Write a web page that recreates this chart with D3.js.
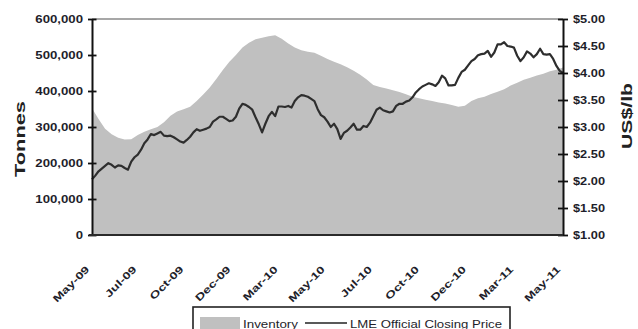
<!DOCTYPE html>
<html>
<head>
<meta charset="utf-8">
<script src="https://cdn.jsdelivr.net/npm/d3@7"></script>
<style>
  html, body { margin: 0; padding: 0; background: #fff; }
  svg { display: block; font-family: "Liberation Sans", Arial, sans-serif; }
</style>
</head>
<body>
<svg id="chart" width="638" height="329"></svg>
<script>
// Date labels along the bottom axis (evenly spaced)
const dateLabels = ["May-09", "Jul-09", "Oct-09", "Dec-09", "Mar-10", "May-10",
                    "Jul-10", "Oct-10", "Dec-10", "Mar-11", "May-11"];

// Inventory, thousand tonnes, sampled evenly across the period
const inventoryKt = [
  352, 322, 295, 280, 270, 265, 266, 278, 287, 294,
  300, 313, 331, 343, 349, 356, 372, 390, 410, 433,
  458, 481, 500, 521, 534, 544, 548, 552, 555, 545,
  532, 521, 513, 509, 506, 498, 489, 481, 474, 466,
  456, 445, 432, 417, 411, 407, 402, 397, 391, 384,
  380, 376, 372, 368, 365, 361, 356, 359, 372, 380,
  384, 392, 398, 405, 415, 423, 431, 437, 443, 448,
  455, 459, 465
];

// LME official closing price, US$/lb, sampled evenly across the period
const priceUsdLb = [
  2.03, 2.10, 2.18, 2.23, 2.28, 2.33, 2.30, 2.25, 2.29, 2.28,
  2.24, 2.21, 2.36, 2.44, 2.49, 2.58, 2.70, 2.77, 2.87, 2.85,
  2.88, 2.91, 2.84, 2.83, 2.84, 2.81, 2.77, 2.73, 2.71, 2.76,
  2.82, 2.90, 2.96, 2.93, 2.95, 2.97, 3.00, 3.10, 3.14, 3.19,
  3.19, 3.15, 3.11, 3.12, 3.19, 3.34, 3.43, 3.41, 3.37, 3.32,
  3.18, 3.05, 2.90, 3.06, 3.20, 3.28, 3.20, 3.38, 3.38, 3.37,
  3.39, 3.36, 3.48, 3.55, 3.59, 3.58, 3.56, 3.52, 3.48, 3.33,
  3.22, 3.18, 3.10, 3.00, 3.06, 2.96, 2.78, 2.89, 2.93, 2.99,
  3.06, 2.95, 2.95, 3.02, 3.00, 3.08, 3.20, 3.32, 3.36, 3.31,
  3.29, 3.27, 3.29, 3.39, 3.43, 3.43, 3.47, 3.49, 3.55, 3.64,
  3.70, 3.75, 3.78, 3.81, 3.79, 3.76, 3.83, 3.95, 3.90, 3.77,
  3.77, 3.78, 3.91, 4.02, 4.06, 4.14, 4.22, 4.26, 4.33, 4.35,
  4.36, 4.41, 4.30, 4.38, 4.53, 4.53, 4.57, 4.50, 4.49, 4.47,
  4.32, 4.22, 4.29, 4.40, 4.36, 4.29, 4.35, 4.45, 4.35, 4.34,
  4.35, 4.26, 4.13, 4.04, 4.00
];

const inventoryTicks = [0, 100, 200, 300, 400, 500, 600];
const priceTicks = [1.0, 1.5, 2.0, 2.5, 3.0, 3.5, 4.0, 4.5, 5.0];

const seriesNames = ["Inventory", "LME Official Closing Price"];

const W = 638, H = 329;
const margin = { top: 19, right: 75, bottom: 94, left: 92 };
const x0 = margin.left, x1 = W - margin.right;
const y0 = H - margin.bottom, y1 = margin.top;

const svg = d3.select("#chart");

const xInv = d3.scaleLinear().domain([0, inventoryKt.length - 1]).range([x0, x1]);
const xPrice = d3.scaleLinear().domain([0, priceUsdLb.length - 1]).range([x0, x1]);
const xLabel = d3.scalePoint().domain(dateLabels).range([x0, x1]);
const yInv = d3.scaleLinear().domain([0, 600]).range([y0, y1]);
const yPrice = d3.scaleLinear().domain([1, 5]).range([y0, y1]);

// stretch text a little wider than the font's natural width
function widen(sel, k) {
  sel.each(function () {
    const L = this.getComputedTextLength();
    this.setAttribute("textLength", (L * k).toFixed(1));
    this.setAttribute("lengthAdjust", "spacingAndGlyphs");
  });
}

// inventory area
svg.append("path")
  .datum(inventoryKt)
  .attr("fill", "#c0c0c0")
  .attr("d", d3.area()
    .x((d, i) => xInv(i))
    .y0(y0)
    .y1(d => yInv(d)));

// price line
svg.append("path")
  .datum(priceUsdLb)
  .attr("fill", "none")
  .attr("stroke", "#2e2e2e")
  .attr("stroke-width", 2.2)
  .attr("stroke-linejoin", "round")
  .attr("d", d3.line()
    .x((d, i) => xPrice(i))
    .y(d => yPrice(d)));

// top border of the plot area
svg.append("line")
  .attr("x1", x0).attr("x2", x1)
  .attr("y1", y1).attr("y2", y1)
  .attr("stroke", "#8a8a8a").attr("stroke-width", 1.5);

// left axis (tonnes)
const leftAxis = svg.append("g")
  .attr("transform", `translate(${x0},0)`)
  .call(d3.axisLeft(yInv).tickValues(inventoryTicks)
    .tickFormat(d => d3.format(",")(d * 1000))
    .tickSizeInner(4).tickSizeOuter(0).tickPadding(5));
leftAxis.select(".domain").attr("stroke", "#111").attr("stroke-width", 2);
leftAxis.selectAll(".tick line").attr("stroke", "#111").attr("stroke-width", 1.8)
  .attr("x1", 4.5);
leftAxis.selectAll(".tick text")
  .attr("font-size", 10).attr("font-weight", "bold").attr("fill", "#1e1e2a")
  .call(widen, 1.32);

// right axis (US$/lb)
const rightAxis = svg.append("g")
  .attr("transform", `translate(${x1},0)`)
  .call(d3.axisRight(yPrice).tickValues(priceTicks)
    .tickFormat(d3.format("$.2f"))
    .tickSizeInner(5).tickSizeOuter(0).tickPadding(5));
rightAxis.select(".domain").attr("stroke", "#111").attr("stroke-width", 2);
rightAxis.selectAll(".tick line").attr("stroke", "#111").attr("stroke-width", 1.8)
  .attr("x1", -5);
rightAxis.selectAll(".tick text")
  .attr("font-size", 10).attr("font-weight", "bold").attr("fill", "#1e1e2a")
  .call(widen, 1.28);

// bottom axis line
svg.append("line")
  .attr("x1", x0 - 3).attr("x2", x1)
  .attr("y1", y0).attr("y2", y0)
  .attr("stroke", "#2a2a2a").attr("stroke-width", 2.2);

// rotated date labels
svg.append("g").selectAll("text")
  .data(dateLabels)
  .join("text")
  .attr("transform", d => `translate(${xLabel(d) - 2},${y0 + 35}) rotate(-45)`)
  .attr("text-anchor", "end")
  .attr("font-size", 10).attr("font-weight", "bold").attr("fill", "#1e1e2a")
  .text(d => d)
  .call(widen, 1.38);

// axis titles
svg.append("text")
  .attr("transform", `translate(${25},${139}) rotate(-90)`)
  .attr("text-anchor", "middle")
  .attr("font-size", 14).attr("font-weight", "bold").attr("fill", "#222")
  .text("Tonnes")
  .attr("textLength", 76).attr("lengthAdjust", "spacingAndGlyphs");

svg.append("text")
  .attr("transform", `translate(${632},${116}) rotate(-90)`)
  .attr("text-anchor", "middle")
  .attr("font-size", 14).attr("font-weight", "bold").attr("fill", "#222")
  .text("US$/lb")
  .attr("textLength", 66).attr("lengthAdjust", "spacingAndGlyphs");

// legend
const legend = svg.append("g");
legend.append("rect")
  .attr("x", 193).attr("y", 307).attr("width", 317).attr("height", 30)
  .attr("fill", "#fff").attr("stroke", "#222").attr("stroke-width", 1.6);
legend.append("rect")
  .attr("x", 200).attr("y", 317).attr("width", 40).attr("height", 14)
  .attr("fill", "#c0c0c0");
legend.append("text")
  .attr("x", 243).attr("y", 327.5)
  .attr("font-size", 10.5).attr("fill", "#1e1e2a")
  .text(seriesNames[0])
  .attr("textLength", 55).attr("lengthAdjust", "spacingAndGlyphs");
legend.append("line")
  .attr("x1", 305).attr("x2", 347).attr("y1", 323).attr("y2", 323)
  .attr("stroke", "#222").attr("stroke-width", 1.5);
legend.append("text")
  .attr("x", 350).attr("y", 327.5)
  .attr("font-size", 10.5).attr("fill", "#1e1e2a")
  .text(seriesNames[1])
  .attr("textLength", 152).attr("lengthAdjust", "spacingAndGlyphs");
</script>
</body>
</html>
